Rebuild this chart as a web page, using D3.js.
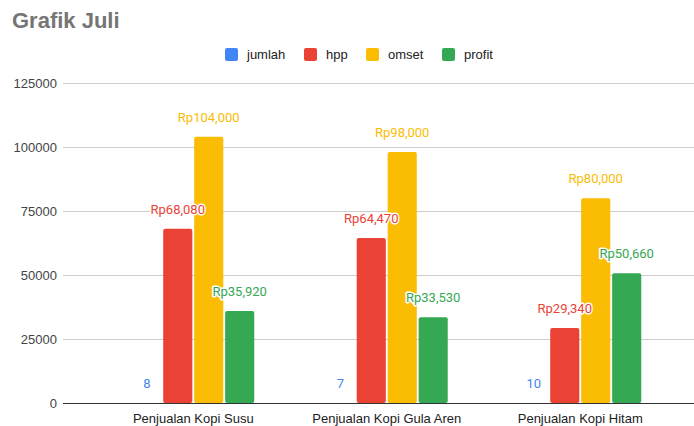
<!DOCTYPE html>
<html>
<head>
<meta charset="utf-8">
<script src="https://cdn.jsdelivr.net/npm/d3@7"></script>
<style>
  body { margin: 0; background: #fff; }
  svg { display: block; font-family: Arial, "Liberation Sans", sans-serif; }
  .lbl { font-family: Roboto, Arial, sans-serif; font-size: 13px; paint-order: stroke; stroke: #fff; stroke-width: 3px; stroke-linejoin: round; }
</style>
</head>
<body>
<svg id="chart"></svg>
<script>
// chart values
var categories = ["Penjualan Kopi Susu", "Penjualan Kopi Gula Aren", "Penjualan Kopi Hitam"];
var seriesNames = ["jumlah", "hpp", "omset", "profit"];
var jumlah = [8, 7, 10];
var hpp = [68080, 64470, 29340];
var omset = [104000, 98000, 80000];
var profit = [35920, 33530, 50660];
var yTicks = [0, 25000, 50000, 75000, 100000, 125000];

var width = 694, height = 426;
var colors = ["#4285F4", "#EA4335", "#FBBC04", "#34A853"];
var seriesVals = [jumlah, hpp, omset, profit];

var svg = d3.select("#chart").attr("width", width).attr("height", height);

// title
svg.append("text")
    .attr("x", 12).attr("y", 28)
    .style("font-size", "22px").style("font-weight", "bold")
    .style("fill", "#757575")
    .text("Grafik Juli");

// legend
var legendX = [225, 304, 366, 442];
seriesNames.forEach(function(s, i) {
    svg.append("rect")
        .attr("x", legendX[i]).attr("y", 48)
        .attr("width", 13).attr("height", 13)
        .attr("rx", 2)
        .style("fill", colors[i]);
    svg.append("text")
        .attr("x", legendX[i] + 22).attr("y", 59)
        .style("font-size", "13px").style("fill", "#222")
        .text(s);
});

var x = d3.scaleBand()
    .domain(categories)
    .range([96.5, 677])
    .paddingInner(0)
    .paddingOuter(0);

var x1 = d3.scaleBand()
    .domain(seriesNames)
    .range([0, 122])
    .paddingInner(0.06);

var y = d3.scaleLinear()
    .domain([0, 125000])
    .range([403, 83]);

// gridlines
svg.append("g").selectAll("line")
    .data(yTicks.slice(1))
    .enter().append("line")
    .attr("x1", 63).attr("x2", 694)
    .attr("y1", function(d) { return y(d) + 0.5; })
    .attr("y2", function(d) { return y(d) + 0.5; })
    .style("stroke", "#ccc").style("stroke-width", 1);

// y axis labels
var yAxis = d3.axisLeft(y).tickValues(yTicks).tickSize(0).tickPadding(6).tickFormat(d3.format("d"));
var gy = svg.append("g").attr("transform", "translate(63,0)").call(yAxis);
gy.select(".domain").remove();
gy.selectAll("text").style("font-size", "13px").style("fill", "#444").style("font-family", "Arial, 'Liberation Sans', sans-serif");

function fmtRp(v) { return "Rp" + d3.format(",")(v); }

function groupX(d) { return x(d) + x.bandwidth() / 2 - 61; }

// bars, labels go in their own layer so they sit on top
var barLayer = svg.append("g");
var labelLayer = svg.append("g");

seriesNames.forEach(function(s, si) {
    barLayer.selectAll("rect.s" + si)
        .data(categories)
        .enter().append("rect")
        .attr("class", "s" + si)
        .attr("x", function(d) { return groupX(d) + x1(s); })
        .attr("width", x1.bandwidth())
        .attr("y", function(d, i) { return y(seriesVals[si][i]); })
        .attr("height", function(d, i) { return y(0) - y(seriesVals[si][i]); })
        .attr("rx", 2)
        .style("fill", colors[si]);
    labelLayer.selectAll("text.s" + si)
        .data(categories)
        .enter().append("text")
        .attr("class", "lbl s" + si)
        .attr("x", function(d) { return groupX(d) + x1(s) + x1.bandwidth() / 2; })
        .attr("y", function(d, i) { return y(seriesVals[si][i]) - 15; })
        .attr("text-anchor", "middle")
        .style("fill", colors[si])
        .text(function(d, i) { return si === 0 ? seriesVals[si][i] : fmtRp(seriesVals[si][i]); });
});

// baseline
svg.append("line")
    .attr("x1", 63).attr("x2", 694)
    .attr("y1", 403.5).attr("y2", 403.5)
    .style("stroke", "#333").style("stroke-width", 1);

// x axis labels
var xAxis = d3.axisBottom(x).tickSize(0).tickPadding(11);
var gx = svg.append("g").attr("transform", "translate(0,403)").call(xAxis);
gx.select(".domain").remove();
gx.selectAll("text").style("font-size", "13px").style("fill", "#222").style("font-family", "Arial, 'Liberation Sans', sans-serif");

labelLayer.raise();
</script>
</body>
</html>
